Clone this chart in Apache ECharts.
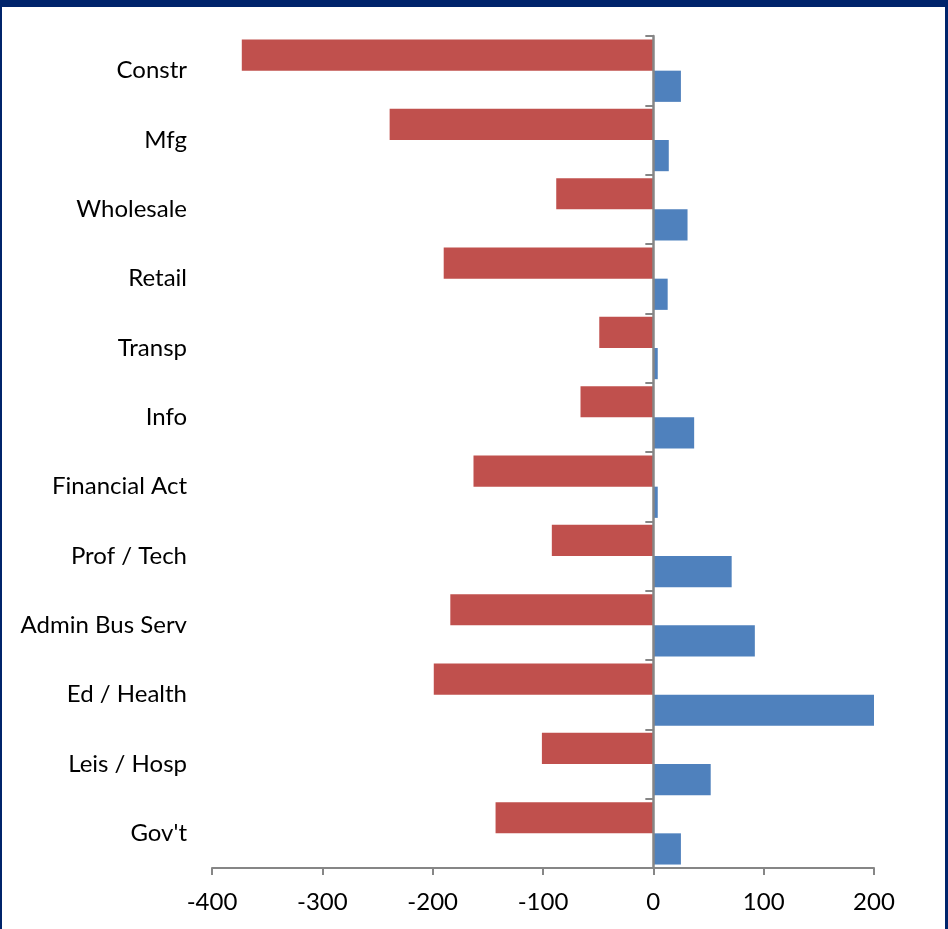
<!DOCTYPE html>
<html>
<head>
<meta charset="utf-8">
<script src="https://cdn.jsdelivr.net/npm/echarts@6/dist/echarts.min.js"></script>
<style>
  html, body { margin: 0; padding: 0; background: #fff; }
  #frame {
    width: 948px; height: 929px; box-sizing: border-box;
    border-top: 7px solid #00246b;
    border-left: 2px solid #00246b;
    border-right: 3px solid #00246b;
    position: relative;
  }
  #chart { position: absolute; left: -2px; top: -7px; width: 948px; height: 929px; }
</style>
</head>
<body>
<div id="frame"><div id="chart"></div></div>
<script>
// Industry sectors, top to bottom
const sectors = ['Constr', 'Mfg', 'Wholesale', 'Retail', 'Transp', 'Info', 'Financial Act',
  'Prof / Tech', 'Admin Bus Serv', 'Ed / Health', 'Leis / Hosp', "Gov't"];

// Job change by sector (thousands)
const losses = [-373, -239, -88, -190, -49, -66, -163, -92, -184, -199, -101, -143];
const gains = [25, 14, 31, 13, 4, 37, 4, 71, 92, 200, 52, 25];

// Value axis ticks
const xMin = -400, xMax = 200, xStep = 100;

const font = 'Lato, "Open Sans", sans-serif';
const axisGrey = '#868686';

const chart = echarts.init(document.getElementById('chart'));
chart.setOption({
  animation: false,
  grid: { left: 212, right: 74, top: 36, bottom: 61, containLabel: false },
  xAxis: {
    type: 'value', min: xMin, max: xMax, interval: xStep,
    splitLine: { show: false },
    axisLine: { show: true, onZero: false, lineStyle: { color: axisGrey, width: 2 } },
    axisTick: { show: true, length: 7, lineStyle: { color: axisGrey, width: 2 } },
    axisLabel: { color: '#000', fontSize: 24, fontFamily: font, margin: 22 }
  },
  yAxis: [
    {
      // sector names along the left edge
      type: 'category', data: sectors, inverse: true,
      axisLine: { show: false, onZero: false },
      axisTick: { show: false },
      axisLabel: { color: '#000', fontSize: 24, fontFamily: font, margin: 25 }
    },
    {
      // baseline with boundary ticks, sitting on the zero of the value axis, above the bars
      type: 'category', data: sectors, inverse: true, position: 'left', z: 5,
      axisLine: { show: true, onZero: true, onZeroAxisIndex: 0, lineStyle: { color: axisGrey, width: 2.5 } },
      axisTick: { show: true, length: 8, lineStyle: { color: axisGrey, width: 2 } },
      axisLabel: { show: false }
    }
  ],
  series: [
    {
      type: 'bar', data: losses, yAxisIndex: 0,
      barGap: '0%', barCategoryGap: '10%',
      itemStyle: { color: '#c0504d' }
    },
    {
      type: 'bar', data: gains, yAxisIndex: 0,
      barGap: '0%', barCategoryGap: '10%',
      itemStyle: { color: '#4f81bd' }
    }
  ]
});
</script>
</body>
</html>
